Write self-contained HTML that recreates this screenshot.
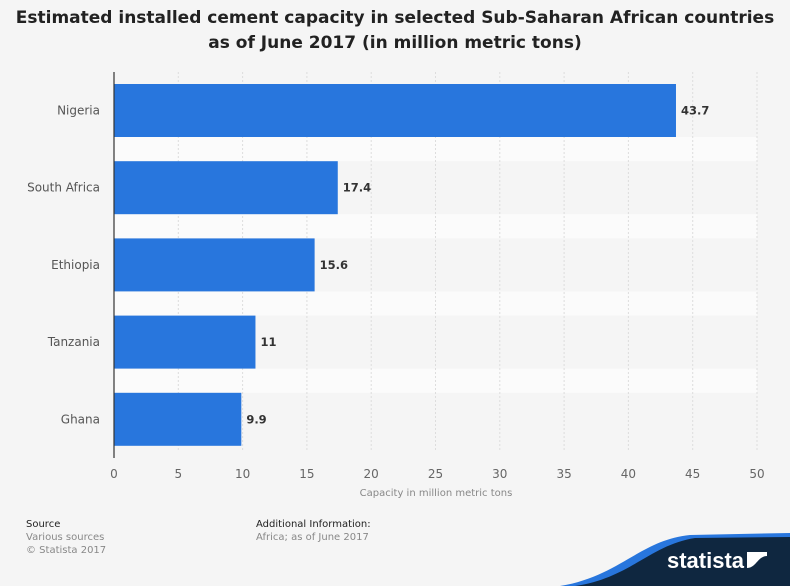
<!DOCTYPE html>
<html><head><meta charset="utf-8"><style>
body{margin:0;width:790px;height:586px;background:#f5f5f5;font-family:"DejaVu Sans","Liberation Sans",sans-serif;overflow:hidden;position:relative}
.t{position:absolute;left:0;width:790px;text-align:center;font-weight:bold;font-size:17px;color:#222;line-height:25px;top:6px}
.f{position:absolute;font-size:10px;color:#888;line-height:13px}
.f b{color:#222;font-weight:normal}
</style></head><body>
<div class="t">Estimated installed cement capacity in selected Sub-Saharan African countries<br>as of June 2017 (in million metric tons)</div>
<svg id="c" width="790" height="586" style="position:absolute;left:0;top:0"></svg>
<div class="f" style="left:26px;top:518px"><b>Source</b><br>Various sources<br>© Statista 2017</div>
<div class="f" style="left:256px;top:518px"><b>Additional Information:</b><br>Africa; as of June 2017</div>
<svg width="790" height="586" style="position:absolute;left:0;top:0">
<path d="M560,586 C620,576 640,540 690,535 L790,533 L790,586 Z" fill="#2876dd"/>
<path d="M575,586 C630,578 650,545 695,538 L790,537 L790,586 Z" fill="#0f2740"/>
<text x="667" y="568" fill="#fff" font-size="22" font-weight="bold" font-family="Liberation Sans,sans-serif">statista</text>
<path d="M747,552 L767,552 L767,556 C758,556 756,568 747,568 Z" fill="#fff"/><path d="M767,556 L767,570 L747,570 L747,568 C758,568 760,556 767,556Z" fill="#fff" opacity="0"/>
</svg>
<script>
const categories=["Nigeria","South Africa","Ethiopia","Tanzania","Ghana"];
const values=[43.7,17.4,15.6,11,9.9];
const labels=["43.7","17.4","15.6","11","9.9"];
const ticks=[0,5,10,15,20,25,30,35,40,45,50];
const svg=document.getElementById('c');const NS='http://www.w3.org/2000/svg';
const x0=114,x1=757,y0=72,band=77.2,top0=84,bh=53;
const xs=v=>x0+(x1-x0)*v/50;
const ys=i=>top0+i*band;
function mk(t,a){const e=document.createElementNS(NS,t);for(const k in a)e.setAttribute(k,a[k]);svg.appendChild(e);return e;}
for(let i=0;i<categories.length-1;i++){const r=mk('rect',{x:x0,y:ys(i)+bh,width:x1-x0,height:band-bh,fill:'#fbfbfb'});

}
ticks.forEach(t=>{if(t>0){const l=mk('line',{x1:xs(t),x2:xs(t),y1:y0,y2:452,stroke:'#ddd','stroke-dasharray':'2,2'});

}
const tx=mk('text',{x:xs(t),y:478,'text-anchor':'middle','font-size':12,fill:'#666'});tx.textContent=t;

});
values.forEach((v,i)=>{const r=mk('rect',{x:x0,y:ys(i),width:xs(v)-x0,height:bh,fill:'#2876dd'});


const vl=mk('text',{x:xs(v)+5,y:ys(i)+bh/2+4,'font-size':11.5,'font-weight':'bold',fill:'#333'});vl.textContent=labels[i];


const cl=mk('text',{x:100,y:ys(i)+bh/2+4,'text-anchor':'end','font-size':12,fill:'#555'});cl.textContent=categories[i];

});
const ax=mk('line',{x1:x0,x2:x0,y1:y0,y2:458,stroke:'#333','stroke-width':1.2});


const at=mk('text',{x:436,y:496,'text-anchor':'middle','font-size':10,fill:'#888'});at.textContent='Capacity in million metric tons';


</script>
</body></html>
